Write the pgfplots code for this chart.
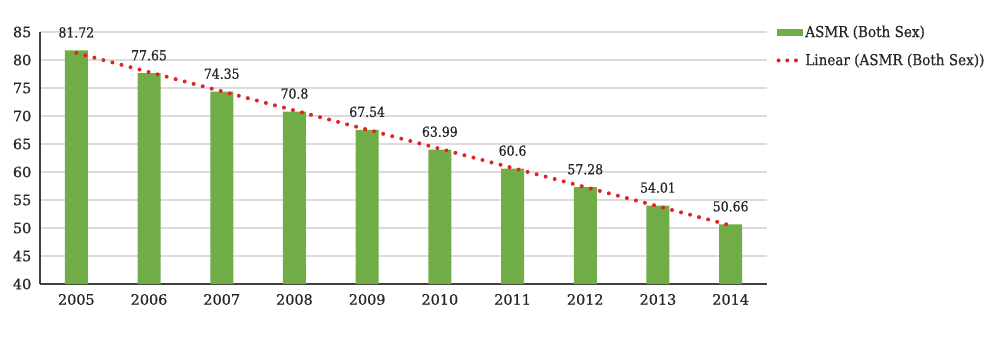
\documentclass[border=0pt]{standalone}
\usepackage{pgfplots}
\pgfplotsset{compat=1.18}
\usepackage{fontspec}
\setmainfont{DejaVu Serif}[FakeBold=0.6]
\newfontfamily\tickfont{DejaVu Serif}[FakeBold=0.6]
\newfontfamily\condfont{DejaVu Serif Condensed}[FakeBold=0.6]
\definecolor{bargreen}{HTML}{70AD47}
\definecolor{trendred}{HTML}{E32222}
\definecolor{gridgray}{HTML}{DCDCDC}
\definecolor{axisgray}{HTML}{404040}
\definecolor{txt}{HTML}{262626}
\begin{document}
\begin{tikzpicture}
\useasboundingbox (-30pt,-45pt) rectangle (720pt,213pt);
\begin{axis}[
  scale only axis,
  width=545.25pt, height=189pt,
  xmin=-0.5, xmax=9.5,
  ymin=40, ymax=85,
  ytick={40,45,...,85},
  xtick={0,...,9},
  xticklabels={2005,2006,2007,2008,2009,2010,2011,2012,2013,2014},
  axis x line*=bottom, axis y line*=left,
  axis line style={axisgray, line width=1.3pt, -},
  major tick length=0pt,
  ymajorgrids, grid style={gridgray, line width=1pt},
  tick label style={font=\tickfont\fontsize{10.8}{12}\selectfont, text=txt},
  /pgf/number format/assume math mode=true,
  xticklabel style={yshift=-4pt},
  yticklabel style={xshift=-3pt},
  legend style={at={(rel axis cs:1,1)}, anchor=north west, draw=none, fill=none,
    xshift=4pt, yshift=9pt, font=\condfont\fontsize{11.3}{13}\selectfont, text=txt,
    row sep=7pt, cells={anchor=west}},
]
\addplot[ybar, bar width=17.25pt, fill=bargreen, draw=none,
  nodes near coords, point meta=explicit symbolic,
  every node near coord/.append style={font=\condfont\fontsize{10.4}{12}\selectfont, text=txt, anchor=south, yshift=6pt},
  legend image code/.code={\fill[bargreen] (0pt,-2.5pt) rectangle (19pt,2.5pt);}]
  coordinates {
  (0,81.72) [81.72]
  (1,77.65) [77.65]
  (2,74.35) [74.35]
  (3,70.8) [70.8]
  (4,67.54) [67.54]
  (5,63.99) [63.99]
  (6,60.6) [60.6]
  (7,57.28) [57.28]
  (8,54.01) [54.01]
  (9,50.66) [50.66]
  };
\addlegendentry{ASMR (Both Sex)}
\addplot[trendred, line width=3pt, line cap=round, dash pattern=on 0pt off 7pt,
  legend image code/.code={\draw[trendred, line width=3pt, line cap=round, dash pattern=on 0pt off 6.5pt] (1pt,0pt) -- (15pt,0pt);}]
  coordinates {(0,81.26) (9,50.46)};
\addlegendentry{Linear (ASMR (Both Sex))}
\end{axis}
\end{tikzpicture}
\end{document}
